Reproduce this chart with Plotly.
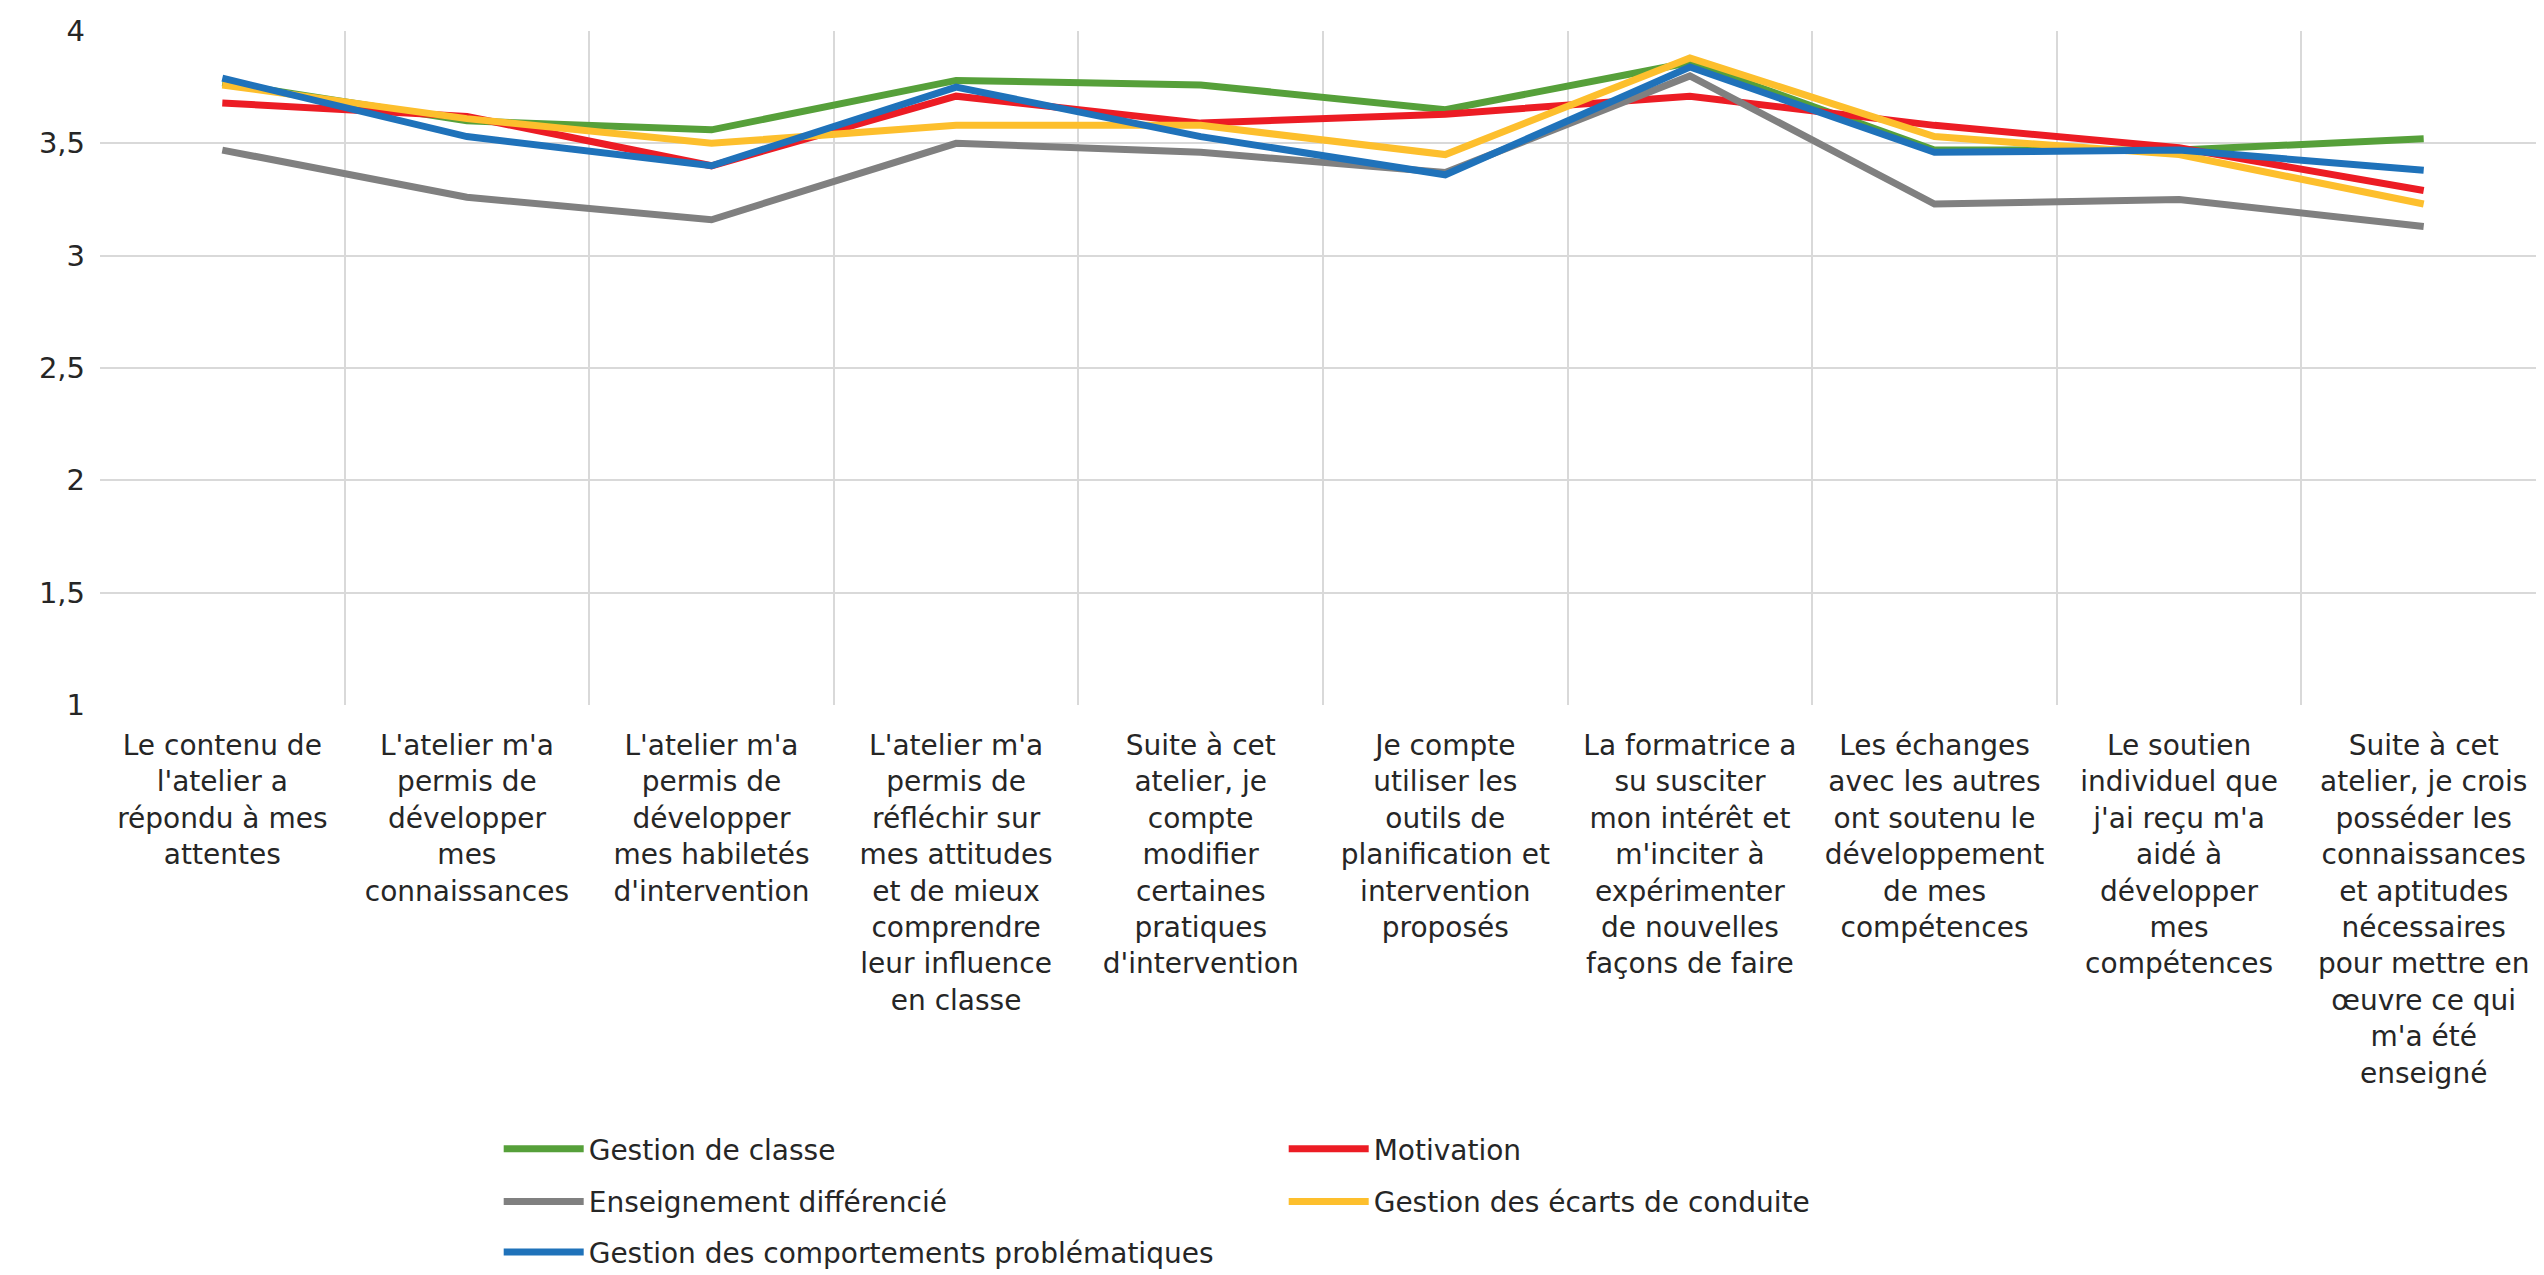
import plotly.graph_objects as go

categories = [
    "Le contenu de<br>l'atelier a<br>répondu à mes<br>attentes",
    "L'atelier m'a<br>permis de<br>développer<br>mes<br>connaissances",
    "L'atelier m'a<br>permis de<br>développer<br>mes habiletés<br>d'intervention",
    "L'atelier m'a<br>permis de<br>réfléchir sur<br>mes attitudes<br>et de mieux<br>comprendre<br>leur influence<br>en classe",
    "Suite à cet<br>atelier, je<br>compte<br>modifier<br>certaines<br>pratiques<br>d'intervention",
    "Je compte<br>utiliser les<br>outils de<br>planification et<br>intervention<br>proposés",
    "La formatrice a<br>su susciter<br>mon intérêt et<br>m'inciter à<br>expérimenter<br>de nouvelles<br>façons de faire",
    "Les échanges<br>avec les autres<br>ont soutenu le<br>développement<br>de mes<br>compétences",
    "Le soutien<br>individuel que<br>j'ai reçu m'a<br>aidé à<br>développer<br>mes<br>compétences",
    "Suite à cet<br>atelier, je crois<br>posséder les<br>connaissances<br>et aptitudes<br>nécessaires<br>pour mettre en<br>œuvre ce qui<br>m'a été<br>enseigné",
]

gestion_classe = [3.77, 3.60, 3.56, 3.78, 3.76, 3.65, 3.86, 3.47, 3.47, 3.52]
motivation = [3.68, 3.62, 3.40, 3.71, 3.59, 3.63, 3.71, 3.58, 3.48, 3.29]
enseignement_diff = [3.47, 3.26, 3.16, 3.50, 3.46, 3.37, 3.80, 3.23, 3.25, 3.13]
ecarts_conduite = [3.76, 3.61, 3.50, 3.58, 3.58, 3.45, 3.88, 3.53, 3.45, 3.23]
comportements = [3.79, 3.53, 3.40, 3.75, 3.53, 3.36, 3.84, 3.46, 3.47, 3.38]

series_names = [
    "Gestion de classe",
    "Motivation",
    "Enseignement différencié",
    "Gestion des écarts de conduite",
    "Gestion des comportements problématiques",
]
series_values = [gestion_classe, motivation, enseignement_diff, ecarts_conduite, comportements]
series_colors = ["#56A03A", "#EC1C24", "#808080", "#FDBF2D", "#1F72BA"]
legend_rows = ["legend", "legend", "legend2", "legend2", "legend3"]

y_ticks = [1, 1.5, 2, 2.5, 3, 3.5, 4]

FONT = "DejaVu Sans, Verdana, sans-serif"
TXT = "#262626"

fig = go.Figure()
for name, vals, col, lg in zip(series_names, series_values, series_colors, legend_rows):
    fig.add_trace(go.Scatter(
        x=categories, y=vals, name=name, mode="lines",
        line=dict(color=col, width=7),
        legend=lg,
    ))

def row_legend(yc):
    return dict(
        orientation="h",
        x=0.163, xanchor="left",
        y=yc, yanchor="middle",
        entrywidth=690, entrywidthmode="pixels",
        itemwidth=80,
        font=dict(family=FONT, size=28, color=TXT),
        bgcolor="rgba(0,0,0,0)",
    )

fig.update_layout(
    width=2544, height=1275,
    margin=dict(l=92, r=6, t=23, b=578, autoexpand=False),
    paper_bgcolor="white", plot_bgcolor="white",
    separators=", ",
    font=dict(family=FONT, size=28, color=TXT),
    showlegend=True,
    legend=row_legend(-0.659),
    legend2=row_legend(-0.737),
    legend3=row_legend(-0.812),
)

fig.update_xaxes(
    type="category",
    tickson="boundaries",
    showgrid=True, gridcolor="#D9D9D9", gridwidth=2,
    showline=False, zeroline=False,
    ticks="", ticklabelstandoff=21,
    tickangle=0,
    tickfont=dict(family=FONT, size=28, color=TXT),
    range=[-0.5, 9.5],
)
fig.update_yaxes(
    range=[1, 4],
    tickvals=y_ticks,
    showgrid=True, gridcolor="#D9D9D9", gridwidth=2,
    showline=False, zeroline=False,
    ticks="", ticklabelstandoff=14,
    tickfont=dict(family=FONT, size=29, color=TXT),
)

fig.write_html("out.html")
